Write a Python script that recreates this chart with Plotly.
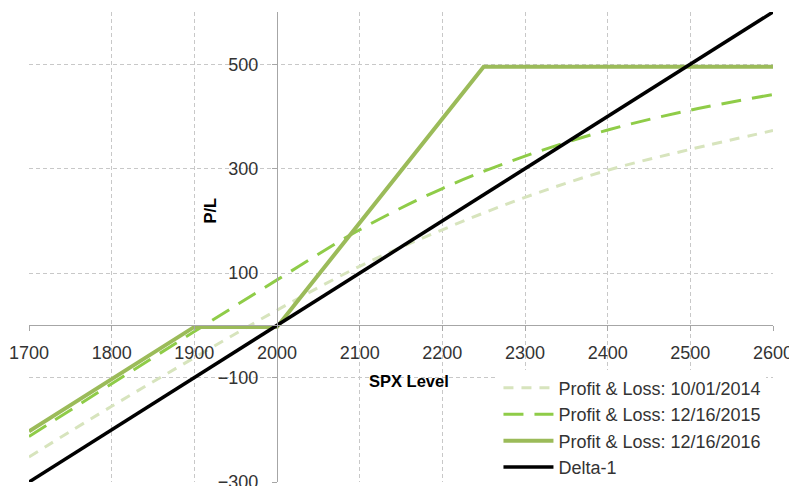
import plotly.graph_objects as go

# ---- data ----
spx = [1700, 1800, 1900, 2000, 2100, 2200, 2300, 2400, 2500, 2600]
pl_2014 = [-252, -155, -62, 29, 113, 183, 245, 297, 337, 373]
pl_2015 = [-213, -112, -12, 87, 183, 262, 324, 374, 412, 442]
spx_2016 = [1700, 1900, 2000, 2250, 2600]
pl_2016 = [-203, -3, -3, 495, 495]
delta1 = [-300, -200, -100, 0, 100, 200, 300, 400, 500, 600]

x_ticks = [1700, 1800, 1900, 2000, 2100, 2200, 2300, 2400, 2500, 2600]
y_ticks = [-300, -100, 100, 300, 500]

names = ["Profit & Loss: 10/01/2014", "Profit & Loss: 12/16/2015",
         "Profit & Loss: 12/16/2016", "Delta-1"]

FONT = "Liberation Sans"
TXT = "#333333"
AXC = "#a6a6a6"
GRID = "#c8c8c8"

fig = go.Figure()
fig.add_trace(go.Scatter(x=spx, y=pl_2014, mode="lines", name=names[0],
                         line=dict(color="#d7e4bd", width=3, dash="10px,8px", shape="spline")))
fig.add_trace(go.Scatter(x=spx, y=pl_2015, mode="lines", name=names[1],
                         line=dict(color="#8fcc48", width=3, dash="20px,11px", shape="spline")))
fig.add_trace(go.Scatter(x=spx_2016, y=pl_2016, mode="lines", name=names[2],
                         line=dict(color="#9bbb59", width=4)))
fig.add_trace(go.Scatter(x=spx, y=delta1, mode="lines", name=names[3],
                         line=dict(color="#000000", width=3.5)))

fig.update_xaxes(range=[1700, 2600], tickvals=x_ticks, anchor="free", position=1/3,
                 showline=True, linecolor=AXC, linewidth=1.3,
                 ticks="outside", ticklen=5, tickcolor=AXC, tickwidth=1.3,
                 ticklabelstandoff=6, ticklabeloverflow="allow",
                 showgrid=True, gridcolor=GRID, gridwidth=1, griddash="4px,3px",
                 zeroline=False, tickfont=dict(family=FONT, size=18, color=TXT))
fig.update_yaxes(range=[-300, 600], tickvals=y_ticks, anchor="free", position=1/3,
                 showline=True, linecolor=AXC, linewidth=1.3,
                 ticks="outside", ticklen=5, tickcolor=AXC, tickwidth=1.3,
                 ticklabelstandoff=10, ticklabeloverflow="allow",
                 showgrid=True, gridcolor=GRID, gridwidth=1, griddash="4px,3px",
                 zeroline=False, tickfont=dict(family=FONT, size=18, color=TXT))

fig.add_annotation(x=1919, y=220, text="<b>P/L</b>", textangle=-90, showarrow=False,
                   font=dict(family=FONT, size=16.5, color="#000"))
fig.add_annotation(x=2160, y=-107, text="<b>SPX Level</b>", showarrow=False,
                   font=dict(family=FONT, size=16.5, color="#000"))

fig.update_layout(
    width=789, height=478,
    margin=dict(l=21, r=24, t=4, b=4, autoexpand=False),
    paper_bgcolor="white", plot_bgcolor="white",
    showlegend=True,
    legend=dict(x=0.631, y=0.239, xanchor="left", yanchor="top", itemwidth=50,
                bgcolor="white", borderwidth=0,
                font=dict(family=FONT, size=18, color=TXT)),
)

fig.write_html("out.html")
